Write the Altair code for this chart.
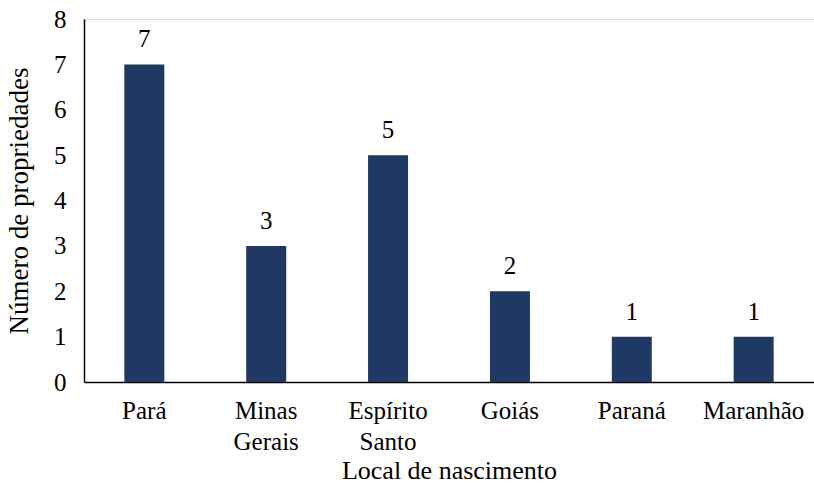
import altair as alt
import pandas as pd

categories = ["Pará", "Minas Gerais", "Espírito Santo", "Goiás", "Paraná", "Maranhão"]
values = [7, 3, 5, 2, 1, 1]

df = pd.DataFrame({"local": categories, "n": values})

FONT = "Liberation Serif"
x = alt.X("local:N", sort=categories, title="Local de nascimento",
          scale=alt.Scale(paddingInner=0.67, paddingOuter=0.33),
          axis=alt.Axis(labelAngle=0, ticks=False, labelPadding=16,
                        labelExpr="split(datum.label, ' ')", labelLineHeight=31,
                        labelFontSize=25, labelFont=FONT, labelColor="black",
                        titleFontSize=26, titleFont=FONT, titleFontWeight="normal",
                        titleColor="black", titlePadding=3,
                        domainColor="black", domainWidth=1.5))
y = alt.Y("n:Q", title="Número de propriedades",
          scale=alt.Scale(domain=[0, 8], nice=False),
          axis=alt.Axis(values=list(range(9)), ticks=False, grid=False, labelPadding=18,
                        labelFontSize=25, labelFont=FONT, labelColor="black",
                        titleFontSize=27, titleFont=FONT, titleFontWeight="normal",
                        titleColor="black", titlePadding=20,
                        domainColor="black", domainWidth=1.5))

bars = alt.Chart(df).mark_bar(color="#1f3864", size=40).encode(x=x, y=y)
labels = alt.Chart(df).mark_text(dy=-17, fontSize=25, font=FONT, color="black",
                                 baseline="alphabetic").encode(x=x, y=y, text="n:Q")

chart = (bars + labels).properties(
    width=730, height=363,
    autosize=alt.AutoSizeParams(type="none"),
    padding={"left": 84, "top": 19, "right": 0, "bottom": 101},
).configure_view(stroke=None).configure(background="white")

chart.save("out.html", embed_options={"renderer": "svg", "actions": False})
